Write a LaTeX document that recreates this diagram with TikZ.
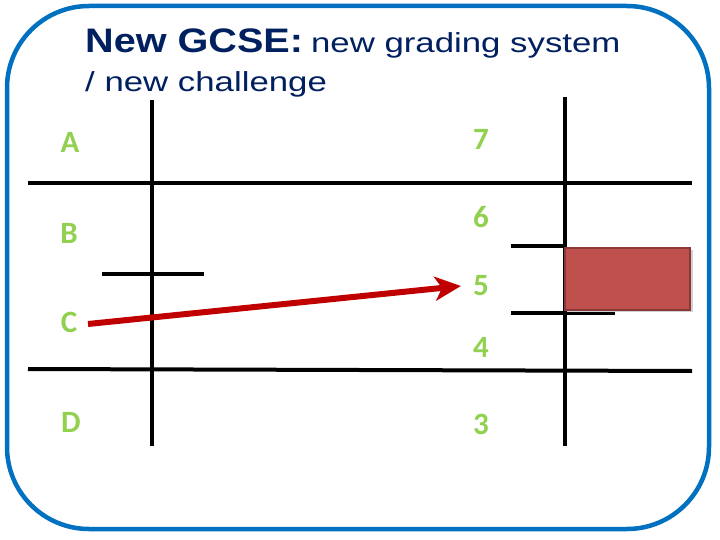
\documentclass[tikz,border=0pt]{standalone}
\usepackage{fontspec}
\setmainfont{Liberation Sans}
\newfontfamily\calfont{Carlito}
\usetikzlibrary{arrows.meta}
\definecolor{frameblue}{RGB}{0,112,192}
\definecolor{titlenavy}{RGB}{0,32,96}
\definecolor{gradegreen}{RGB}{146,208,80}
\definecolor{arrowred}{RGB}{192,0,0}
\definecolor{boxred}{RGB}{192,80,77}
\definecolor{boxedge}{RGB}{140,56,54}
\tikzset{
  gridline/.style={line width=4pt, black},
  grade/.style={font=\calfont\bfseries\fontsize{31}{31}\selectfont, text=gradegreen, inner sep=0pt, anchor=center},
}
\begin{document}
\begin{tikzpicture}[x=1pt,y=-1pt]
\useasboundingbox (0,0) rectangle (720,540);
\fill[white] (0,0) rectangle (720,540);
% frame
\draw[frameblue, line width=4.5pt, rounded corners=82pt] (7,6) rectangle (709,529);
% title
\node[anchor=base west, inner sep=0pt, text=titlenavy] (t1) at (85,53)
  {\scalebox{1.165}[1]{\fontsize{34}{34}\selectfont\bfseries New GCSE:}\hspace{8pt}\scalebox{1.265}[1]{\fontsize{27.5}{27.5}\selectfont new grading system}};
\node[anchor=base west, inner sep=0pt, text=titlenavy] (t2) at (85,92)
  {\scalebox{1.265}[1]{\fontsize{27.5}{27.5}\selectfont / new challenge}};
% grid
\draw[gridline] (152,100) -- (152,446);
\draw[gridline] (565,97) -- (565,446);
\draw[gridline] (28,183) -- (692,183);
\draw[gridline] (28,369) -- (692,371);
\draw[gridline] (102,274) -- (204,274);
\draw[gridline] (511,246) -- (565,246);
\draw[gridline] (511,313) -- (615,313);
% box with shadow
\fill[black!18] (567,250) rectangle (693,312);
\node[draw=boxedge, fill=boxred, line width=2pt, minimum width=125pt, minimum height=62pt, inner sep=0pt, anchor=north west] (box) at (564,247) {};
% labels
\node[grade] (A) at (70,142) {A};
\node[grade] (B) at (69,233) {B};
\node[grade] (C) at (69,322) {C};
\node[grade] (D) at (71,422) {D};
\node[grade] (g7) at (481,139) {7};
\node[grade] (g6) at (481,217) {6};
\node[grade] (g5) at (481,286) {5};
\node[grade] (g4) at (481,347) {4};
\node[grade] (g3) at (481,424) {3};
% arrow
\coordinate (as) at (88,324);
\draw[arrowred, line width=6pt, -{Stealth[length=26pt,width=24pt,inset=7pt]}] (as) -- ([xshift=-12pt]g5.west);
\end{tikzpicture}
\end{document}
